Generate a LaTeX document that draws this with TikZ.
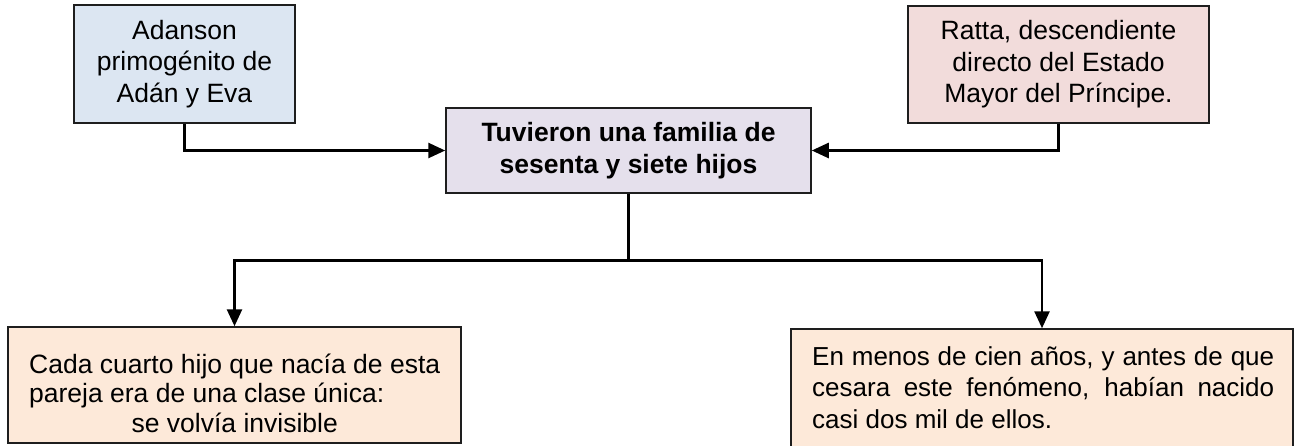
\documentclass[tikz,border=0pt]{standalone}
\usepackage{fontspec}
\setmainfont{Liberation Sans}
\usetikzlibrary{arrows.meta}
\definecolor{bluef}{HTML}{DCE6F2}
\definecolor{lavf}{HTML}{E5E0EC}
\definecolor{rosef}{HTML}{F2DCDB}
\definecolor{peachf}{HTML}{FDE9D9}
\definecolor{edge}{HTML}{1E1E1E}
\begin{document}
\begin{tikzpicture}[x=1pt,y=-1pt,
  box/.style={draw=edge, line width=1.5pt, rectangle, inner sep=0pt, align=center,
    font=\fontsize{26.5}{31.5}\selectfont},
  txt/.style={inner sep=0pt, anchor=base west},
  link/.style={line width=2.6pt, draw=black},
  conn/.style={link, -{Triangle[length=17pt,width=15pt]}}]
\useasboundingbox (0,0) rectangle (1300,445);
% top boxes
\node[box, fill=bluef, minimum width=221pt, minimum height=118pt] (adan) at (184.5,64)
  {Adanson\\primogénito de\\Adán y Eva};
\node[box, fill=lavf, minimum width=365pt, minimum height=85pt,
  font=\fontsize{26.5}{32}\selectfont\bfseries] (mid) at (628.5,150.5)
  {Tuvieron una familia de\\sesenta y siete hijos};
\node[box, fill=rosef, minimum width=301pt, minimum height=117pt] (ratta) at (1058.5,64.5)
  {Ratta, descendiente\\directo del Estado\\Mayor del Príncipe.};
% bottom boxes
\node[box, fill=peachf, minimum width=453pt, minimum height=116pt] (cada) at (234.5,385) {};
\node[txt] (cadat) at (29,373) {\parbox[t]{411pt}{\fontsize{26.5}{29.5}\selectfont
  Cada cuarto hijo que nacía de esta\\
  pareja era de una clase única:\\
  \makebox[\linewidth]{se volvía invisible}}};
\node[box, fill=peachf, minimum width=502pt, minimum height=119pt] (menos) at (1042,388.5) {};
\node[txt] (menost) at (812,365) {\parbox[t]{462pt}{\fontsize{26}{31.5}\selectfont
  \makebox[\linewidth][s]{En menos de cien años, y antes de que}\\
  \makebox[\linewidth][s]{cesara este fenómeno, habían nacido}\\
  casi dos mil de ellos.}};
% connectors
\draw[conn] (adan.south) |- (mid.west);
\draw[conn] (ratta.south) |- (mid.east);
\coordinate (j) at (628.5,260.5);
\draw[link] (mid.south) -- (j);
\draw[conn] (j) -| (cada.north);
\draw[conn] (j) -| (menos.north);
\end{tikzpicture}
\end{document}
